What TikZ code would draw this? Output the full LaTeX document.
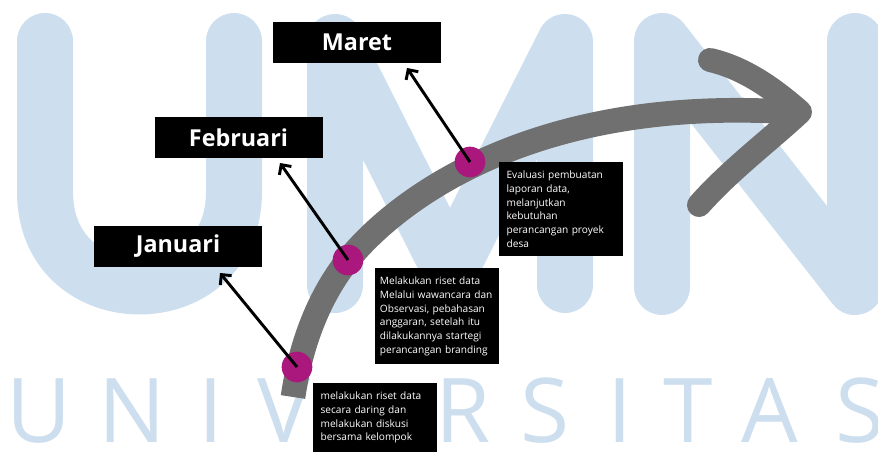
\documentclass[tikz,border=0pt]{standalone}
\usepackage{fontspec}
\setmainfont{Open Sans}
\usetikzlibrary{arrows.meta}
\definecolor{umnblue}{RGB}{205,223,238}
\definecolor{arrowgray}{RGB}{112,112,112}
\definecolor{dotpink}{RGB}{170,24,125}

\begin{document}
\begin{tikzpicture}[x=0.75pt,y=-0.75pt,
  logo/.style={umnblue, line width=42pt, line cap=round, line join=round},
  month/.style={fill=black, text=white, font=\bfseries\fontsize{17.5}{20}\selectfont,
    minimum width=126pt, minimum height=30.75pt},
  note/.style={fill=black, text=white, anchor=north west, align=left, text width=82pt,
    inner xsep=5.5pt, inner ysep=6.5pt, font=\fontsize{7.6}{10.3}\selectfont},
  dot/.style={circle, fill=dotpink, minimum size=23pt, inner sep=0pt},
  pointer/.style={line width=2.2pt, -{Straight Barb[length=5.5pt,width=11pt]}}]

\clip (0,0) rectangle (878,452);

\draw[logo] (45,41) -- (45,192) .. controls (45,318) and (234,318) .. (234,192) -- (234,41);
\draw[logo] (335,285) -- (335,42) -- (450,270) -- (565,42) -- (565,285);
\draw[logo] (662,287) -- (662,41) -- (855,287) -- (855,41);
\foreach \chr/\x in {U/39,N/132,I/211,V/284,R/463,S/545,I/620,T/688,A/770,S/860}
  \node[umnblue, anchor=base, font=\fontsize{67}{67}\selectfont] at (\x,442) {\chr};

\draw[arrowgray, line width=18.5pt] (293,397) .. controls (302,335) and (324,290) .. (348,260)
  .. controls (388,210) and (520,95) .. (790,112);
\draw[arrowgray, line width=18pt, line cap=round, line join=round]
  (710,60) .. controls (745,68) and (775,90) .. (800,112)
  .. controls (770,140) and (730,170) .. (699,205);

\node[dot] (d1) at (297,367) {};
\node[dot] (d2) at (348,260) {};
\node[dot] (d3) at (470,162) {};

\node[month] (jan) at (178,246.5) {Januari};
\node[month] (feb) at (238.5,137.5) {Februari};
\node[month] (mar) at (357,42.5) {Maret};

\coordinate (p1) at (220,273);
\coordinate (p2) at (280,163);
\coordinate (p3) at (407,68);
\draw[pointer] (d1.center) -- (p1);
\draw[pointer] (d2.center) -- (p2);
\draw[pointer] (d3.center) -- (p3);

\node[note] (n1) at (313,383) {melakukan riset data\\secara daring dan\\melakukan diskusi\\bersama kelompok};
\node[note, text width=86pt, inner xsep=3.5pt] (n2) at (375,268) {Melakukan riset data\\Melalui wawancara dan\\Observasi, pebahasan\\anggaran, setelah itu\\dilakukannya startegi\\perancangan branding};
\node[note] (n3) at (499,162) {Evaluasi pembuatan\\laporan data,\\melanjutkan\\kebutuhan\\perancangan proyek\\desa};

\end{tikzpicture}
\end{document}
